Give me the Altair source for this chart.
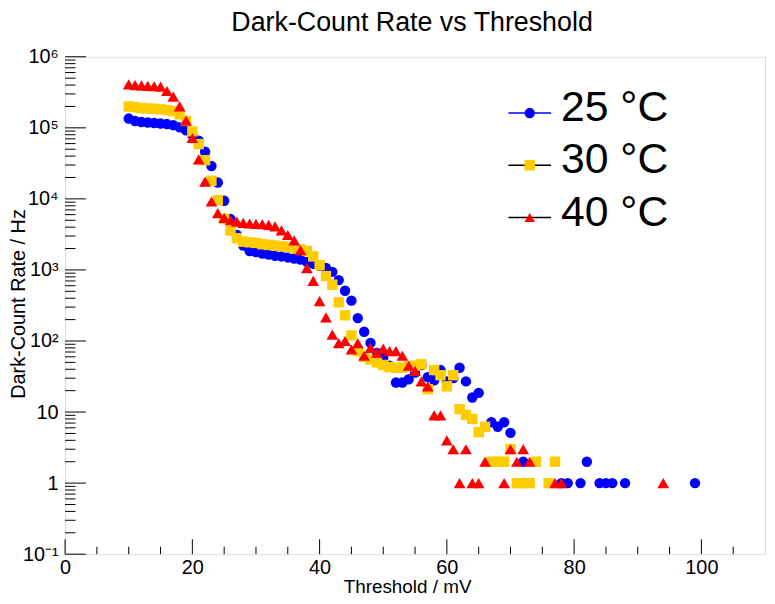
import altair as alt
import pandas as pd

# ---------------- data ----------------
chart_title = "Dark-Count Rate vs Threshold"
series_names = ["25 °C", "30 °C", "40 °C"]
series_colors = ["#0000ff", "#ffcc00", "#ff0000"]
series_shapes = ["circle", "square", "triangle-up"]
legend_line_colors = ["#0000ff", "#000000", "#000000"]

thr_25 = [10, 11, 12, 13, 14, 15, 16, 17, 18, 19, 20, 21, 22, 23, 24, 25, 26, 27, 28, 29,
          30, 31, 32, 33, 34, 35, 36, 37, 38, 39, 40, 41, 42, 43, 44, 45, 46, 47, 48, 49,
          50, 51, 52, 53, 54, 55, 56, 57, 58, 59, 60, 61, 62, 63, 64, 65,
          67, 68, 69, 70, 72, 78, 79, 81, 82, 84, 85, 86, 88, 99]
rate_25 = [1.35e5, 1.25e5, 1.21e5, 1.19e5, 1.17e5, 1.15e5, 1.13e5, 1.09e5, 1.02e5, 9.2e4,
           7.9e4, 6.6e4, 4.6e4, 2.9e4, 1.7e4, 9.4e3, 5.2e3, 3.1e3, 2.2e3, 1.85e3,
           1.78e3, 1.7e3, 1.65e3, 1.58e3, 1.55e3, 1.5e3, 1.45e3, 1.4e3, 1.3e3, 1.22e3,
           1.15e3, 1.07e3, 940, 720, 510, 370, 210, 135, 94, 68,
           58, 45, 26, 26, 29, 36, 46, 31, 28, 39, 27, 30, 42, 27, 16, 18.6,
           7.2, 6.2, 7.2, 5.1, 2, 1, 1, 1, 2, 1, 1, 1, 1, 1]

thr_30 = [10, 11, 12, 13, 14, 15, 16, 17, 18, 19, 20, 21, 22, 23, 24, 25, 26, 27, 28, 29,
          30, 31, 32, 33, 34, 35, 36, 37, 38, 39, 40, 41, 42, 43, 44, 45, 46, 47, 48, 49,
          50, 51, 52, 53, 54, 55, 56, 57, 58, 59, 60, 61, 62, 63, 64, 65, 66, 67, 68, 69,
          70, 71, 72, 73, 74, 76, 77]
rate_30 = [2.0e5, 1.95e5, 1.9e5, 1.87e5, 1.85e5, 1.82e5, 1.78e5, 1.72e5, 1.55e5, 1.25e5,
           8.9e4, 5.9e4, 3.5e4, 1.8e4, 9.6e3, 5.2e3, 3.6e3, 2.8e3, 2.5e3, 2.45e3,
           2.4e3, 2.3e3, 2.25e3, 2.2e3, 2.15e3, 2.1e3, 2.0e3, 1.95e3, 1.85e3, 1.55e3,
           1.17e3, 820, 620, 350, 230, 120, 72, 60, 55, 50,
           46, 43, 42, 42, 44, 45, 47, 21, 39, 33, 23, 33, 11, 9.1, 8, 5.2, 6.2, 2, 2, 2,
           3, 1, 1, 1, 2, 1, 2]

thr_40 = [10, 11, 12, 13, 14, 15, 16, 17, 18, 19, 20, 21, 22, 23, 24, 25, 26, 27, 28, 29,
          30, 31, 32, 33, 34, 35, 36, 37, 38, 39, 40, 41, 42, 43, 44, 45, 46, 47, 48, 49,
          50, 51, 52, 53, 54, 55, 56, 57, 58, 59, 60, 61, 62, 63, 64, 65, 66,
          69, 70, 71, 72, 73, 77, 78, 94]
rate_40 = [4.1e5, 4.0e5, 3.95e5, 3.9e5, 3.85e5, 3.8e5, 3.3e5, 2.75e5, 2.0e5, 1.26e5,
           7.2e4, 3.6e4, 1.75e4, 9.2e3, 6.3e3, 5.4e3, 5.0e3, 4.8e3, 4.6e3, 4.5e3,
           4.45e3, 4.4e3, 4.3e3, 4.1e3, 3.6e3, 3.1e3, 2.6e3, 1.9e3, 1.06e3, 700,
           365, 215, 123, 93, 100, 76, 93, 62, 80, 68,
           78, 72, 72, 62, 45, 38, 27, 23, 9, 9, 4, 3, 1, 3, 1, 1, 2,
           1, 3, 2, 3, 2, 1, 1, 1]

x_major_ticks = [0, 20, 40, 60, 80, 100]
x_minor_ticks = [5, 10, 15, 25, 30, 35, 45, 50, 55, 65, 70, 75, 85, 90, 95, 105]
y_major_ticks = [0.1, 1, 10, 100, 1e3, 1e4, 1e5, 1e6]
y_tick_labels = ["10⁻¹", "1", "10", "10²", "10³", "10⁴", "10⁵", "10⁶"]
y_minor_ticks = [m * d for d in [0.1, 1, 10, 100, 1e3, 1e4, 1e5] for m in range(2, 10)]

# ---------------- styling ----------------
FONT = "Liberation Sans"
W, H = 705, 501
x_scale = alt.Scale(domain=[0, 110], nice=False, zero=False)
y_scale = alt.Scale(type="log", domain=[0.1, 1e6], nice=False)

label_expr = ""
for v, lab in zip(y_major_ticks, y_tick_labels):
    label_expr += f"abs(datum.value - {v}) < {v * 1e-6} ? '{lab}' : "
label_expr += "''"

x_axis = alt.Axis(values=x_major_ticks, title="Threshold / mV", ticks=False, domain=False,
                  grid=False, labelFlush=False, labelOverlap=False, labelPadding=3,
                  labelFontSize=20, labelFont=FONT, labelColor="black",
                  titleFont=FONT, titleFontSize=19, titleFontWeight="normal", titleColor="black",
                  titleX=344.5, titleY=38.5, titleAlign="center", titleBaseline="alphabetic")
y_axis = alt.Axis(values=y_major_ticks, labelExpr=label_expr, title="Dark-Count Rate / Hz",
                  ticks=False, domain=False, grid=False, labelFlush=False, labelOverlap=False,
                  labelPadding=7, labelFontSize=20, labelFont=FONT, labelColor="black",
                  titleFont=FONT, titleFontSize=20, titleFontWeight="normal", titleColor="black",
                  titleAngle=270, titleX=-41, titleY=248.5, titleAlign="center",
                  titleBaseline="alphabetic")

frames = []
for name, xs, ys in zip(series_names, [thr_25, thr_30, thr_40], [rate_25, rate_30, rate_40]):
    frames.append(pd.DataFrame({"series": name, "threshold": xs, "rate": ys}))

# inward ticks (ROOT style)
xmaj = alt.Chart(pd.DataFrame({"t": x_major_ticks})).mark_rule(color="black", strokeWidth=1).encode(
    x=alt.X("t:Q", scale=x_scale, axis=x_axis), y=alt.value(H), y2=alt.value(H - 15))
xmin = alt.Chart(pd.DataFrame({"t": x_minor_ticks})).mark_rule(color="black", strokeWidth=1).encode(
    x=alt.X("t:Q", scale=x_scale, axis=x_axis), y=alt.value(H), y2=alt.value(H - 7.5))
ymaj = alt.Chart(pd.DataFrame({"t": y_major_ticks})).mark_rule(color="black", strokeWidth=1).encode(
    y=alt.Y("t:Q", scale=y_scale, axis=None), x=alt.value(0), x2=alt.value(21))
ymin = alt.Chart(pd.DataFrame({"t": y_minor_ticks})).mark_rule(color="black", strokeWidth=1).encode(
    y=alt.Y("t:Q", scale=y_scale, axis=None), x=alt.value(0), x2=alt.value(10.5))

layers = []
for i, (name, df) in enumerate(zip(series_names, frames)):
    size = 140 if series_shapes[i] == "triangle-up" else 110
    layers.append(
        alt.Chart(df).mark_point(filled=True, opacity=1, size=size, shape=series_shapes[i],
                                 color=series_colors[i]).encode(
            x=alt.X("threshold:Q", scale=x_scale, axis=x_axis),
            y=alt.Y("rate:Q", scale=y_scale, axis=y_axis if i == 0 else None),
        )
    )

# legend (ROOT TLegend style)
leg_df = pd.DataFrame({"series": series_names})
leg_y = alt.Y("series:N", scale=alt.Scale(type="point", domain=series_names,
                                           range=[56.7, 161.8], padding=0), axis=None)
leg_line = alt.Chart(leg_df).mark_rule(strokeWidth=1.5).encode(
    y=leg_y, x=alt.value(446.5), x2=alt.value(489.5),
    stroke=alt.Stroke("series:N", scale=alt.Scale(domain=series_names, range=legend_line_colors),
                      legend=None))
leg_pts = alt.Chart(leg_df).mark_point(filled=True, opacity=1, size=110).encode(
    y=leg_y, x=alt.value(468),
    fill=alt.Fill("series:N", scale=alt.Scale(domain=series_names, range=series_colors), legend=None),
    shape=alt.Shape("series:N", scale=alt.Scale(domain=series_names, range=series_shapes), legend=None))
leg_txt = alt.Chart(leg_df).mark_text(align="left", baseline="alphabetic", dy=8.3, fontSize=43,
                                      font=FONT, color="black").encode(
    y=leg_y, x=alt.value(499.5), text="series:N")

# chart title as text above the frame
title_txt = alt.Chart(pd.DataFrame({"title": [chart_title]})).mark_text(
    align="center", baseline="alphabetic", fontSize=27, font=FONT, color="black").encode(
    x=alt.value(349.5), y=alt.value(-26), text="title:N")

chart = alt.layer(
    xmaj, xmin, ymaj, ymin, *layers, leg_line, leg_pts, leg_txt, title_txt
).resolve_scale(y="independent").properties(
    width=W, height=H,
    autosize=alt.AutoSizeParams(type="none"),
    padding={"left": 57.5, "top": 47, "right": 2, "bottom": 40},
).configure_view(stroke="black", strokeWidth=1.2).configure(background="white")

chart.save("out.html", embed_options={"renderer": "svg", "actions": False})
